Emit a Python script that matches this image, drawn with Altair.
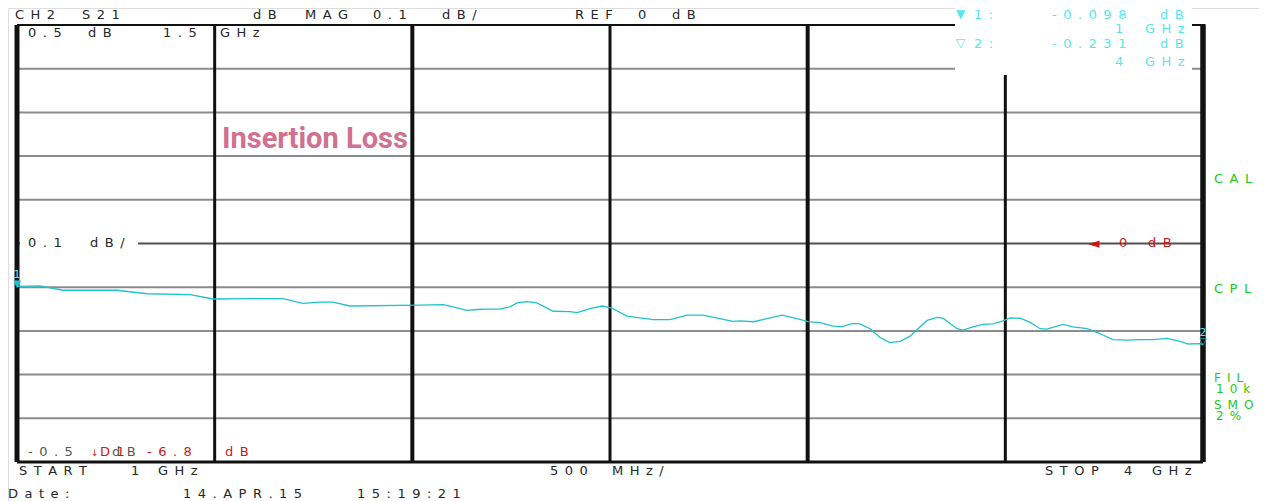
import altair as alt
import pandas as pd

# ---------------- data ----------------
trace_freq_ghz = [
    1.000, 1.058, 1.116, 1.253, 1.329, 1.438, 1.496, 1.589, 1.673, 1.723,
    1.766, 1.799, 1.842, 2.019, 2.078, 2.103, 2.138, 2.164, 2.189, 2.222,
    2.247, 2.265, 2.290, 2.315, 2.356, 2.399, 2.417, 2.449, 2.480, 2.505,
    2.543, 2.609, 2.652, 2.695, 2.735, 2.778, 2.811, 2.829, 2.862, 2.897,
    2.935, 2.973, 3.001, 3.031, 3.064, 3.087, 3.115, 3.132, 3.158, 3.183,
    3.208, 3.234, 3.259, 3.277, 3.302, 3.327, 3.342, 3.378, 3.393, 3.418,
    3.443, 3.469, 3.494, 3.512, 3.537, 3.562, 3.588, 3.605, 3.646, 3.671,
    3.707, 3.739, 3.772, 3.808, 3.841, 3.874, 3.909, 3.942, 3.962, 3.992,
    4.000,
]
trace_db = [
    -0.098, -0.097, -0.107, -0.107, -0.115, -0.117, -0.127, -0.126, -0.126, -0.137,
    -0.134, -0.134, -0.143, -0.141, -0.140, -0.145, -0.153, -0.151, -0.150, -0.150,
    -0.145, -0.136, -0.133, -0.136, -0.155, -0.156, -0.158, -0.149, -0.143, -0.148,
    -0.166, -0.174, -0.174, -0.164, -0.164, -0.172, -0.178, -0.177, -0.179, -0.172,
    -0.164, -0.172, -0.179, -0.181, -0.189, -0.190, -0.183, -0.184, -0.195, -0.215,
    -0.227, -0.224, -0.212, -0.197, -0.176, -0.169, -0.171, -0.195, -0.198, -0.191,
    -0.185, -0.184, -0.177, -0.170, -0.171, -0.180, -0.195, -0.196, -0.185, -0.191,
    -0.195, -0.206, -0.220, -0.221, -0.220, -0.220, -0.217, -0.224, -0.230, -0.229,
    -0.231,
]
assert len(trace_freq_ghz) == len(trace_db)

marker_ids = ["1", "2"]
marker_freq_ghz = [1.0, 4.0]
marker_db = [-0.098, -0.231]

grid_freq_ghz = [1.0, 1.5, 2.0, 2.5, 3.0, 3.5, 4.0]
grid_db = [-0.4, -0.3, -0.2, -0.1, 0.1, 0.2, 0.3, 0.4]
ref_db = [0.0]
top_db = [0.5]
bottom_db = [-0.5]

# ---------------- styling / layout ----------------
W, H = 1251, 493
OFF = 8  # page margin
X0, X1 = 17 - OFF, 1203 - OFF
Y0, Y1 = 25 - OFF, 462 - OFF

TXT = "#262626"
CYAN_T = "#55e6ef"
TRACE = "#22c2cc"
GREEN = "#22c922"
RED = "#c81818"
PINK = "#d27090"
SEP = "\u2002"


def sp(s):
    return SEP.join(list(s))


xs = alt.Scale(domain=[1, 4], range=[X0, X1], nice=False, zero=False)
ys = alt.Scale(domain=[-0.5, 0.5], range=[Y1, Y0], nice=False, zero=False)


def hrules(vals, color, width):
    df = pd.DataFrame({"db": vals})
    return alt.Chart(df).mark_rule(color=color, strokeWidth=width).encode(
        y=alt.Y("db:Q", scale=ys, axis=None),
        x=alt.value(X0),
        x2=alt.value(X1),
    )


hgrid = hrules(grid_db, "#8c8c8c", 2)
href = hrules(ref_db, "#505050", 2)
htop = hrules(top_db, "#111111", 2)
hbot = hrules(bottom_db, "#111111", 3)

vwidth = {1.0: 5, 1.5: 3, 2.0: 4, 2.5: 3, 3.0: 4, 3.5: 3, 4.0: 5}
vdf = pd.DataFrame({"f": grid_freq_ghz, "w": [vwidth[f] for f in grid_freq_ghz]})
vgrid = alt.Chart(vdf).mark_rule(color="#111111").encode(
    x=alt.X("f:Q", scale=xs, axis=None),
    y=alt.value(Y0),
    y2=alt.value(Y1),
    strokeWidth=alt.StrokeWidth("w:Q", scale=None),
)
# right frame over the readout box
rframe = alt.Chart(pd.DataFrame({"f": [4.0]})).mark_rule(color="#111111", strokeWidth=5).encode(
    x=alt.X("f:Q", scale=xs, axis=None),
    y=alt.value(24 - OFF),
    y2=alt.value(Y1),
)

# white backgrounds
box = alt.Chart(pd.DataFrame({"a": [0]})).mark_rect(color="white").encode(
    x=alt.value(955 - OFF), x2=alt.value(1192 - OFF),
    y=alt.value(0), y2=alt.value(75 - OFF),
)
lblbg = alt.Chart(pd.DataFrame({"a": [0]})).mark_rect(color="white").encode(
    x=alt.value(20 - OFF), x2=alt.value(138 - OFF),
    y=alt.value(237 - OFF), y2=alt.value(250 - OFF),
)

tdf = pd.DataFrame({"f": trace_freq_ghz, "db": trace_db})
trace = alt.Chart(tdf).mark_line(color=TRACE, strokeWidth=1.3).encode(
    x=alt.X("f:Q", scale=xs, axis=None),
    y=alt.Y("db:Q", scale=ys, axis=None),
    order="f:Q",
)

mdf = pd.DataFrame({"id": marker_ids, "f": marker_freq_ghz, "db": marker_db,
                    "tri": ["\u25bc", "\u25bd"]})
mtri = alt.Chart(mdf).mark_text(font="DejaVu Sans", fontSize=10, color=TRACE, baseline="bottom", dy=3).encode(
    x=alt.X("f:Q", scale=xs, axis=None), y=alt.Y("db:Q", scale=ys, axis=None), text="tri:N")
mlbl = alt.Chart(mdf).mark_text(font="DejaVu Sans", fontSize=11, color=CYAN_T, baseline="bottom", dy=-6).encode(
    x=alt.X("f:Q", scale=xs, axis=None), y=alt.Y("db:Q", scale=ys, axis=None), text="id:N")

# annotation texts (page coordinates)
T = []


def add(s, x, y, c=TXT, size=13, spaced=True):
    T.append({"t": sp(s) if spaced else s, "px": x - OFF, "py": y - OFF, "c": c, "s": size})


for s, x in [("CH2", 15), ("S21", 82), ("dB", 253), ("MAG", 305), ("0.1", 373), ("dB/", 442),
             ("REF", 575), ("0", 638), ("dB", 672)]:
    add(s, x, 15)
for s, x in [("0.5", 28), ("dB", 88), ("1.5", 163), ("GHz", 220)]:
    add(s, x, 33)
add("0.1", 28, 243)
add("dB/", 90, 243)
add("-0.5", 28, 452, "#555555")
add("dB", 112, 452, "#555555")
for s, x in [("START", 19), ("1", 131), ("GHz", 158), ("500", 550), ("MHz/", 612),
             ("STOP", 1045), ("4", 1124), ("GHz", 1152)]:
    add(s, x, 471)
for s, x in [("Date:", 8), ("14.APR.15", 183), ("15:19:21", 357)]:
    add(s, x, 494)
for s, x, y, z in [("CAL", 1214, 179, 13), ("CPL", 1214, 289, 13), ("FIL", 1214, 378, 12),
                   ("10k", 1216, 389, 12), ("SMO", 1214, 405, 12), ("2%", 1216, 416, 12)]:
    add(s, x, y, GREEN, z)
add("\u2193", 91, 453, RED, 9, False)
for s, x in [("D1", 100), ("-6.8", 147), ("dB", 225)]:
    add(s, x, 452, RED)
add("\u25c4", 1088, 243, RED, 15, False)
add("0", 1119, 243, RED)
add("dB", 1148, 243, RED)
# marker readouts
for i, (mid, f, v) in enumerate(zip(marker_ids, marker_freq_ghz, marker_db)):
    y1 = 15 + i * 29
    y2 = 29 + i * 33
    add("\u25bc" if i == 0 else "\u25bd", 956, y1 - 1, CYAN_T, 12, False)
    add(mid + ":", 974, y1, CYAN_T)
    add(f"{v:.3f}", 1052, y1, CYAN_T)
    add("dB", 1160, y1, CYAN_T)
    add(f"{f:g}", 1115, y2, CYAN_T)
    add("GHz", 1145, y2, CYAN_T)

texts = alt.Chart(pd.DataFrame(T)).mark_text(font="DejaVu Sans", align="left", baseline="middle").encode(
    x=alt.X("px:Q", scale=None, axis=None),
    y=alt.Y("py:Q", scale=None, axis=None),
    text="t:N",
    color=alt.Color("c:N", scale=None),
    size=alt.Size("s:Q", scale=None),
)

title = alt.Chart(pd.DataFrame({"t": ["Insertion Loss"]})).mark_text(
    font="Roboto", fontWeight="bold", fontSize=29, color=PINK, align="left", baseline="middle"
).encode(x=alt.value(222 - OFF), y=alt.value(139 - OFF), text="t:N")

chart = alt.layer(
    hgrid, href, htop, hbot, vgrid, box, rframe, lblbg, trace, mtri, mlbl, texts, title
).resolve_scale(x="independent", y="independent").properties(
    width=W, height=H, autosize=alt.AutoSizeParams(type="none"), padding=0
).configure_view(stroke=None).configure(background="white")

chart.save("out.html", embed_options={"renderer": "svg", "actions": False})
